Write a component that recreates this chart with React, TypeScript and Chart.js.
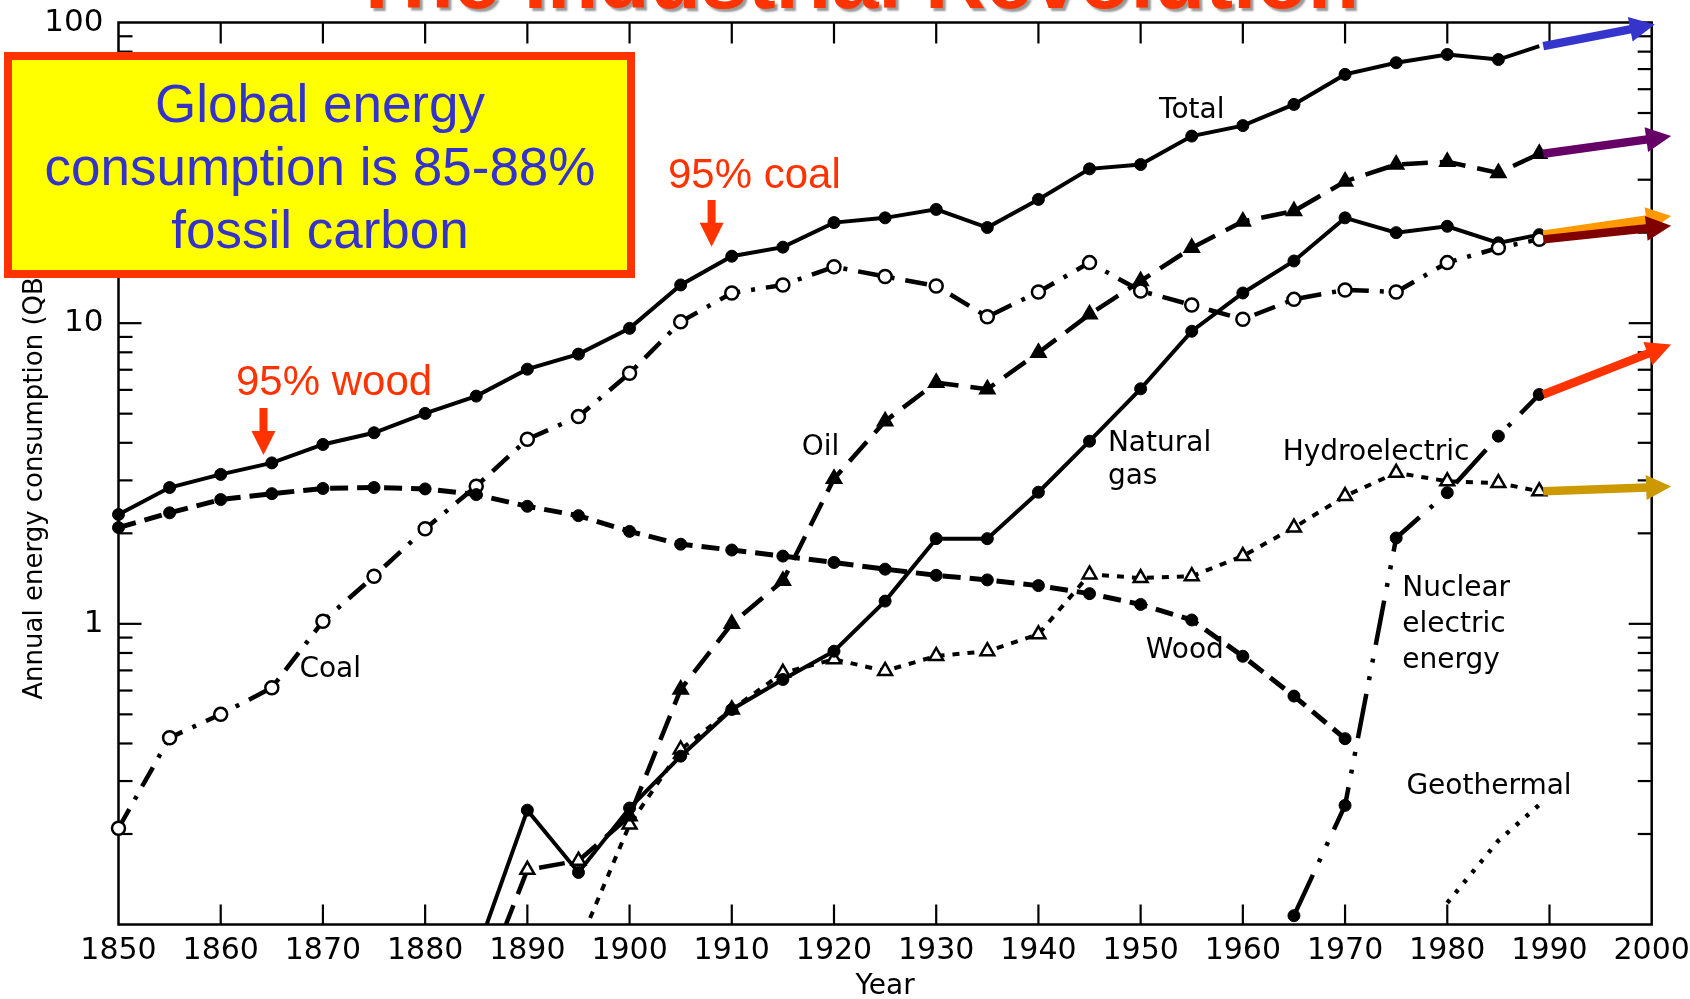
import React, { useEffect, useRef } from "react";
import { Chart, registerables } from "chart.js";

Chart.register(...registerables);

// ---------------- DATA ----------------
const years = [
  1850, 1855, 1860, 1865, 1870, 1875, 1880, 1885, 1890, 1895, 1900, 1905, 1910, 1915, 1920,
  1925, 1930, 1935, 1940, 1945, 1950, 1955, 1960, 1965, 1970, 1975, 1980, 1985, 1989,
];

const totalValues = [
  2.31, 2.84, 3.14, 3.43, 3.95, 4.32, 5.01, 5.72, 7.03, 7.89, 9.61, 13.4, 16.7, 17.9, 21.6,
  22.4, 23.9, 20.8, 25.8, 32.6, 33.7, 41.9, 45.4, 53.4, 67.2, 73.5, 78.3, 75.3, 83.4,
];

const coalValues = [
  0.209, 0.418, 0.5, 0.613, 1.02, 1.44, 2.07, 2.87, 4.11, 4.89, 6.81, 10.1, 12.6, 13.4, 15.4,
  14.3, 13.3, 10.5, 12.7, 15.9, 12.8, 11.5, 10.3, 12.0, 12.9, 12.7, 15.9, 17.8, 19.0,
];

const woodValues = [
  2.09, 2.34, 2.59, 2.71, 2.82, 2.84, 2.81, 2.69, 2.46, 2.29, 2.03, 1.84, 1.76, 1.68, 1.6,
  1.52, 1.45, 1.4, 1.34, 1.26, 1.16, 1.03, 0.78, 0.575, 0.415, null, null, null, null,
];

const oilValues = [
  null, null, null, null, null, null, null, 0.056, 0.152, 0.163, 0.229, 0.605, 1.0, 1.39, 3.04,
  4.72, 6.34, 6.03, 7.98, 10.7, 13.8, 17.8, 21.8, 23.6, 29.6, 33.7, 34.4, 31.6, 36.6,
];

const gasValues = [
  null, null, null, null, null, null, null, 0.08, 0.24, 0.149, 0.244, 0.363, 0.519, 0.653, 0.811,
  1.19, 1.92, 1.92, 2.74, 4.05, 6.05, 9.4, 12.6, 16.1, 22.4, 20.0, 21.0, 18.5, 19.7,
];

const hydroValues = [
  null, null, null, null, null, null, null, null, null, 0.085, 0.215, 0.382, 0.519, 0.687, 0.762,
  0.697, 0.782, 0.811, 0.923, 1.46, 1.42, 1.44, 1.68, 2.09, 2.66, 3.18, 2.98, 2.94, 2.76,
];

const nuclearValues = [
  null, null, null, null, null, null, null, null, null, null, null, null, null, null, null,
  null, null, null, null, null, null, null, null, 0.107, 0.249, 1.93, 2.73, 4.21, 5.79,
];

const geothermalValues = [
  null, null, null, null, null, null, null, null, null, null, null, null, null, null, null,
  null, null, null, null, null, null, null, null, null, null, null, 0.118, 0.19, 0.25,
];

// axis ticks
const xTickYears = [1860, 1870, 1880, 1890, 1900, 1910, 1920, 1930, 1940, 1950, 1960, 1970, 1980, 1990];
const yLabelValues = [1, 10, 100];
const yDecades = [0.1, 1, 10];
const yMinorMultipliers = [2, 3, 4, 5, 6, 7, 8, 9];

// projection arrows (start at the last point of each series)
const arrowSources = [totalValues, oilValues, gasValues, coalValues, nuclearValues, hydroValues];
const arrowEndYears = [2000.3, 2001.9, 2001.9, 2001.9, 2001.9, 2001.9];
const arrowEndValues = [98.5, 41.9, 22.7, 21.1, 8.49, 2.86];
const arrowColors = ["#3535CC", "#660066", "#FF9900", "#800000", "#FF3300", "#CC9900"];

// in-plot series labels (anchor = left/baseline in data coordinates)
const labelTexts = [["Total"], ["Oil"], ["Natural", "gas"], ["Hydroelectric"], ["Nuclear", "electric", "energy"], ["Wood"], ["Coal"], ["Geothermal"]];
const labelYears = [1951.8, 1916.85, 1946.8, 1963.9, 1975.6, 1950.5, 1867.7, 1976.0];
const labelValues = [48.2, 3.63, 3.75, 3.52, 1.24, 0.771, 0.668, 0.272];
const labelLineGaps = [0, 0, 33, 0, 36, 0, 0, 0];

const boxLines = ["Global energy", "consumption is 85-88%", "fossil carbon"];

// ---------------- STYLE ----------------
const FONT = '"DejaVu Sans", "Liberation Sans", sans-serif';
const ARIAL = '"Liberation Sans", Arial, sans-serif';
const RED = "#FF3300";

const toPoints = (arr: (number | null)[]) => years.map((x, i) => ({ x, y: arr[i] }));
const visibleRadius = (r: number) => (c: any) => {
  const v = c.raw ? c.raw.y : null;
  return v == null || v < 0.1 ? 0 : r;
};
const CLIP = { left: 14, right: 14, top: 14, bottom: 0 };

function drawArrow(ctx: CanvasRenderingContext2D, x0: number, y0: number, x1: number, y1: number, color: string, w = 8, hl = 24, hw = 24) {
  const ang = Math.atan2(y1 - y0, x1 - x0);
  const cos = Math.cos(ang);
  const sin = Math.sin(ang);
  const bx = x1 - hl * cos;
  const by = y1 - hl * sin;
  ctx.save();
  ctx.strokeStyle = color;
  ctx.fillStyle = color;
  ctx.lineWidth = w;
  ctx.lineCap = "butt";
  ctx.beginPath();
  ctx.moveTo(x0, y0);
  ctx.lineTo(bx + cos, by + sin);
  ctx.stroke();
  ctx.beginPath();
  ctx.moveTo(x1, y1);
  ctx.lineTo(bx + (hw / 2) * sin, by - (hw / 2) * cos);
  ctx.lineTo(bx - (hw / 2) * sin, by + (hw / 2) * cos);
  ctx.closePath();
  ctx.fill();
  ctx.restore();
}

const decoPlugin = {
  id: "deco",
  beforeDraw(chart: any) {
    const { ctx, width, height } = chart;
    ctx.save();
    ctx.fillStyle = "#ffffff";
    ctx.fillRect(0, 0, width, height);
    ctx.restore();
  },
  beforeDatasetsDraw(chart: any) {
    const { ctx, chartArea: a, scales } = chart;
    const x = scales.x;
    const y = scales.y;
    ctx.save();
    ctx.strokeStyle = "#000";
    ctx.lineWidth = 2.5;
    ctx.strokeRect(a.left, a.top, a.right - a.left, a.bottom - a.top);
    ctx.lineWidth = 2.2;
    const line = (x0: number, y0: number, x1: number, y1: number) => {
      ctx.beginPath();
      ctx.moveTo(x0, y0);
      ctx.lineTo(x1, y1);
      ctx.stroke();
    };
    xTickYears.forEach((yr) => {
      const px = x.getPixelForValue(yr);
      line(px, a.bottom, px, a.bottom - 20);
      line(px, a.top, px, a.top + 21);
    });
    yDecades.forEach((d, di) => {
      [1, ...yMinorMultipliers].forEach((m) => {
        const v = d * m;
        if (di === 0 && m === 1) return;
        const py = y.getPixelForValue(v);
        const len = m === 1 ? 23 : 14;
        line(a.left, py, a.left + len, py);
        line(a.right, py, a.right - len, py);
      });
    });
    ctx.restore();
  },
  afterDraw(chart: any) {
    const { ctx, scales } = chart;
    const x = scales.x;
    const y = scales.y;
    ctx.save();

    // series labels
    ctx.fillStyle = "#000";
    ctx.font = `28px ${FONT}`;
    ctx.textAlign = "left";
    ctx.textBaseline = "alphabetic";
    labelTexts.forEach((lines, i) => {
      const px = x.getPixelForValue(labelYears[i]);
      const py = y.getPixelForValue(labelValues[i]);
      lines.forEach((t, j) => ctx.fillText(t, px, py + j * labelLineGaps[i]));
    });

    // projection arrows
    const lastIdx = years.length - 1;
    arrowSources.forEach((src, i) => {
      const x0 = x.getPixelForValue(years[lastIdx]);
      const y0 = y.getPixelForValue(src[lastIdx] as number);
      const x1 = x.getPixelForValue(arrowEndYears[i]);
      const y1 = y.getPixelForValue(arrowEndValues[i]);
      drawArrow(ctx, x0 + 4, y0, x1, y1, arrowColors[i], 8.5, 25, 25);
    });

    // y axis title
    ctx.save();
    ctx.translate(42, 470);
    ctx.rotate(-Math.PI / 2);
    ctx.font = `26px ${FONT}`;
    ctx.textAlign = "center";
    ctx.textBaseline = "alphabetic";
    ctx.fillStyle = "#000";
    ctx.fillText("Annual energy consumption (QBtu)", 0, 0);
    ctx.restore();

    // yellow call-out box
    ctx.fillStyle = "#FFFF00";
    ctx.fillRect(8, 56, 623, 218);
    ctx.strokeStyle = RED;
    ctx.lineWidth = 8;
    ctx.strokeRect(8, 56, 623, 218);
    ctx.fillStyle = "#3333CC";
    ctx.font = `53px ${ARIAL}`;
    ctx.textAlign = "center";
    ctx.textBaseline = "alphabetic";
    boxLines.forEach((t, i) => ctx.fillText(t, 320, 121.5 + i * 63.3));

    // red notes
    ctx.fillStyle = RED;
    ctx.font = `42px ${ARIAL}`;
    ctx.textAlign = "left";
    ctx.fillText("95% coal", 668, 188);
    ctx.fillText("95% wood", 236, 395);
    drawArrow(ctx, 711.6, 200, 711.6, 246.7, RED, 8, 24, 24);
    drawArrow(ctx, 263.5, 408, 263.5, 455, RED, 8, 24, 24);

    // slide title (cut off at the top)
    ctx.save();
    ctx.font = `bold 84px ${ARIAL}`;
    ctx.textAlign = "center";
    ctx.textBaseline = "alphabetic";
    ctx.shadowColor = "rgba(120,120,120,0.75)";
    ctx.shadowOffsetX = 3;
    ctx.shadowOffsetY = 3;
    ctx.shadowBlur = 2;
    ctx.fillStyle = RED;
    ctx.fillText("The Industrial Revolution", 855, 8);
    ctx.restore();

    ctx.restore();
  },
};

const zeroPadding = (s: any) => {
  s.paddingTop = 0;
  s.paddingBottom = 0;
  s.paddingLeft = 0;
  s.paddingRight = 0;
};

export default function App() {
  const ref = useRef<HTMLCanvasElement>(null);

  useEffect(() => {
    document.body.style.margin = "0";
    const canvas = ref.current;
    if (!canvas) return;

    const datasets: any[] = [
      {
        label: "Wood",
        data: toPoints(woodValues),
        borderColor: "#000",
        borderWidth: 5,
        borderDash: [18, 9],
        pointStyle: "circle",
        pointRadius: visibleRadius(6),
        pointBackgroundColor: "#000",
        pointBorderColor: "#000",
        pointBorderWidth: 1,
      },
      {
        label: "Coal",
        data: toPoints(coalValues),
        borderColor: "#000",
        borderWidth: 4.5,
        borderDash: [22, 11, 4, 11],
        pointStyle: "circle",
        pointRadius: visibleRadius(6.5),
        pointBackgroundColor: "#fff",
        pointBorderColor: "#000",
        pointBorderWidth: 2.5,
      },
      {
        label: "Oil",
        data: toPoints(oilValues),
        borderColor: "#000",
        borderWidth: 4.5,
        borderDash: [26, 12],
        pointStyle: "triangle",
        pointRadius: visibleRadius(8),
        pointBackgroundColor: (c: any) => (c.dataIndex <= 9 ? "#fff" : "#000"),
        pointBorderColor: "#000",
        pointBorderWidth: 2.5,
      },
      {
        label: "Natural gas",
        data: toPoints(gasValues),
        borderColor: "#000",
        borderWidth: 4,
        pointStyle: "circle",
        pointRadius: visibleRadius(6),
        pointBackgroundColor: "#000",
        pointBorderColor: "#000",
        pointBorderWidth: 1,
      },
      {
        label: "Hydroelectric",
        data: toPoints(hydroValues),
        borderColor: "#000",
        borderWidth: 4,
        borderDash: [7, 8],
        pointStyle: "triangle",
        pointRadius: visibleRadius(8),
        pointBackgroundColor: "#fff",
        pointBorderColor: "#000",
        pointBorderWidth: 2.5,
      },
      {
        label: "Nuclear electric energy",
        data: toPoints(nuclearValues),
        borderColor: "#000",
        borderWidth: 4.5,
        borderDash: [45, 14, 4, 14, 4, 14],
        pointStyle: "circle",
        pointRadius: visibleRadius(6),
        pointBackgroundColor: "#000",
        pointBorderColor: "#000",
        pointBorderWidth: 1,
      },
      {
        label: "Geothermal",
        data: toPoints(geothermalValues),
        borderColor: "#000",
        borderWidth: 4.5,
        borderDash: [4, 9],
        pointRadius: 0,
      },
      {
        label: "Total",
        data: toPoints(totalValues),
        borderColor: "#000",
        borderWidth: 4,
        pointStyle: "circle",
        pointRadius: (c: any) => (c.dataIndex === years.length - 1 ? 0 : 6),
        pointBackgroundColor: "#000",
        pointBorderColor: "#000",
        pointBorderWidth: 1,
      },
    ].map((d) => ({ ...d, fill: false, tension: 0, spanGaps: false, clip: CLIP, pointHoverRadius: 0 }));

    const chart = new Chart(canvas, {
      type: "line",
      data: { datasets },
      options: {
        responsive: false,
        animation: false,
        devicePixelRatio: 1,
        events: [],
        layout: { padding: { left: 0, right: 38.3, top: 22.5, bottom: 0 } },
        plugins: {
          legend: { display: false },
          tooltip: { enabled: false },
          title: { display: false },
        },
        scales: {
          x: {
            type: "linear",
            min: 1850,
            max: 2000,
            grid: { display: false, drawTicks: false },
            border: { display: false },
            ticks: {
              stepSize: 10,
              autoSkip: false,
              maxRotation: 0,
              minRotation: 0,
              padding: 9,
              color: "#000",
              font: { family: FONT, size: 30 },
              callback: (v: any) => String(v),
            },
            title: {
              display: true,
              text: "Year",
              color: "#000",
              font: { family: FONT, size: 28, lineHeight: 0.8 },
              padding: { top: 0, bottom: 1 },
            },
            afterFit: (s: any) => {
              s.height = 74.5;
              zeroPadding(s);
            },
          },
          y: {
            type: "logarithmic",
            min: 0.1,
            max: 100,
            grid: { display: false, drawTicks: false },
            border: { display: false },
            ticks: {
              autoSkip: false,
              padding: 15,
              color: "#000",
              font: { family: FONT, size: 31 },
              callback: (v: any) => {
                const n = Number(v);
                const hit = yLabelValues.find((t) => Math.abs(t - n) < 1e-9 * t);
                return hit !== undefined ? String(hit) : "";
              },
            },
            afterFit: (s: any) => {
              s.width = 118.5;
              zeroPadding(s);
            },
          },
        },
      } as any,
      plugins: [decoPlugin],
    });

    return () => chart.destroy();
  }, []);

  return (
    <div style={{ position: "absolute", left: 0, top: 0, width: 1690, height: 999, background: "#fff" }}>
      <canvas ref={ref} width={1690} height={999} style={{ display: "block", width: 1690, height: 999 }} />
    </div>
  );
}
